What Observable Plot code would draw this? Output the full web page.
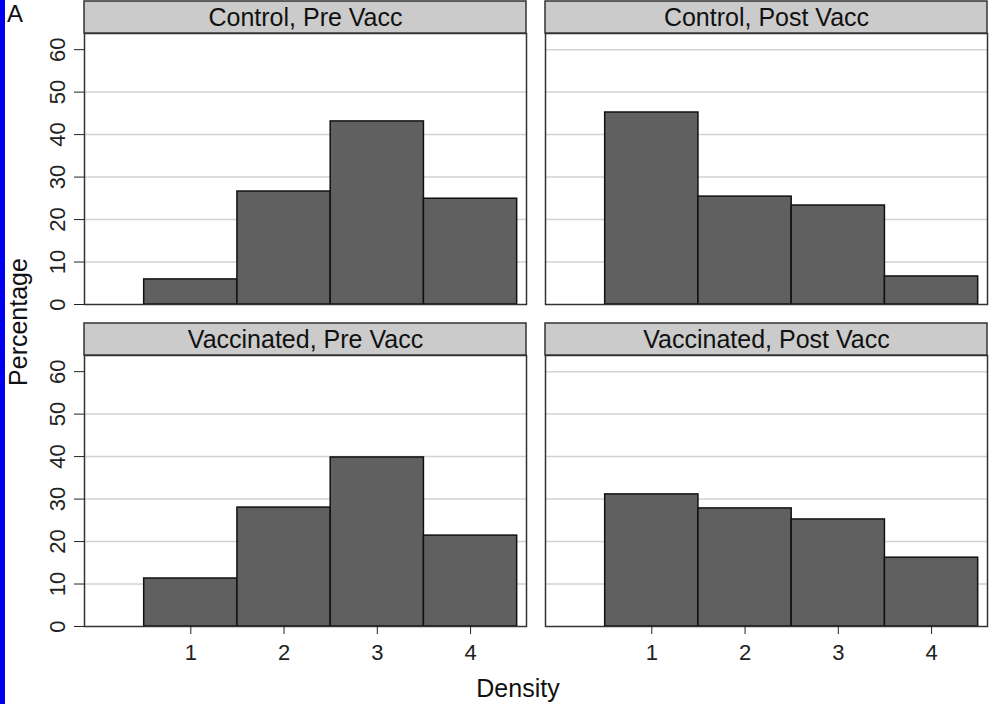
<!DOCTYPE html>
<html>
<head>
<meta charset="utf-8">
<script src="https://cdn.jsdelivr.net/npm/d3@7"></script>
<script src="https://cdn.jsdelivr.net/npm/@observablehq/plot@0.6"></script>
<style>
  html, body { margin: 0; padding: 0; background: #fff; overflow: hidden; }
  #wrap { position: relative; width: 989px; height: 704px; font-family: "Liberation Sans", Arial, sans-serif; }
  #edge { position: absolute; left: 0; top: 0; width: 5px; height: 704px; background: #0000ee; z-index: 2; }
  .lbl { position: absolute; color: #111; white-space: nowrap; line-height: 1; }
  #tag { left: 7px; top: 2px; font-size: 24px; }
  #ytitle { left: 18px; top: 322px; font-size: 25px; transform: translate(-50%, -50%) rotate(-90deg); }
  #xtitle { left: 518px; top: 688px; font-size: 25px; transform: translate(-50%, -50%); }
  #chart { position: absolute; left: 0; top: 0; }
</style>
</head>
<body>
<div id="wrap">
  <div id="chart"></div>
  <div id="edge"></div>
  <div class="lbl" id="tag">A</div>
  <div class="lbl" id="ytitle">Percentage</div>
  <div class="lbl" id="xtitle">Density</div>
</div>
<script>
// Density categories and panel layout
const densities = [1, 2, 3, 4];
const groups = ["Control", "Vaccinated"];
const periods = ["Pre Vacc", "Post Vacc"];

// Percentage of subjects in each density category
const controlPre = [5.9, 26.6, 43.1, 24.9];
const controlPost = [45.2, 25.4, 23.3, 6.6];
const vaccinatedPre = [11.3, 28.0, 39.8, 21.4];
const vaccinatedPost = [31.1, 27.8, 25.2, 16.2];

// Axis ticks
const yTicks = [0, 10, 20, 30, 40, 50, 60];
const gridTicks = [10, 20, 30, 40, 50];
const xDomain = [-0.14, 4.6];
const yDomain = [0, 63.8];

const series = [
  {group: "Control", period: "Pre Vacc", values: controlPre},
  {group: "Control", period: "Post Vacc", values: controlPost},
  {group: "Vaccinated", period: "Pre Vacc", values: vaccinatedPre},
  {group: "Vaccinated", period: "Post Vacc", values: vaccinatedPost}
];
const rows = series.flatMap(s => s.values.map((pct, i) => ({group: s.group, period: s.period, density: densities[i], pct})));
const strips = series.map(s => ({group: s.group, period: s.period, label: `${s.group}, ${s.period}`}));
const extraGrid = [{v: 60, period: "Post Vacc"}];

const chart = Plot.plot({
  width: 989,
  height: 704,
  marginLeft: 83,
  marginRight: 1,
  marginTop: 33,
  marginBottom: 78,
  style: {fontFamily: "Liberation Sans, Arial, sans-serif", fontSize: "22px", background: "transparent", maxWidth: "none", overflow: "visible", color: "#111"},
  x: {domain: xDomain, axis: null},
  y: {domain: yDomain, axis: null},
  fx: {domain: periods, axis: null, paddingInner: 0.0411, paddingOuter: 0},
  fy: {domain: groups, axis: null, paddingInner: 0.1584, paddingOuter: 0},
  marks: [
    Plot.gridY(gridTicks, {stroke: "#d2d2d2", strokeOpacity: 1, strokeWidth: 1.5}),
    Plot.ruleY(extraGrid, {y: "v", fx: "period", stroke: "#d2d2d2", strokeWidth: 1.5}),
    Plot.rect(rows, {
      fx: "period", fy: "group",
      x1: d => d.density - 0.5, x2: d => d.density + 0.5,
      y1: 0, y2: "pct",
      fill: "#606060", stroke: "#111", strokeWidth: 1.5
    }),
    Plot.frame({stroke: "#333", strokeWidth: 1.5}),
    Plot.rect(strips, {
      fx: "period", fy: "group",
      x1: () => xDomain[0], x2: () => xDomain[1],
      y1: () => yDomain[1], y2: () => yDomain[1],
      insetTop: -32,
      fill: "#cbcbcb", stroke: "#333", strokeWidth: 1.5
    }),
    Plot.text(strips, {fx: "period", fy: "group", text: "label", frameAnchor: "top", lineAnchor: "middle", dy: -16, fontSize: 25, fill: "#111"}),
    Plot.axisY(yTicks, {anchor: "left", tickSize: 10, tickPadding: 10, tickRotate: -90, fontSize: 22, color: "#222", label: null}),
    Plot.axisX(densities, {anchor: "bottom", tickSize: 8, tickPadding: 10, fontSize: 22, color: "#222", label: null})
  ]
});
document.getElementById("chart").appendChild(chart);
</script>
</body>
</html>
